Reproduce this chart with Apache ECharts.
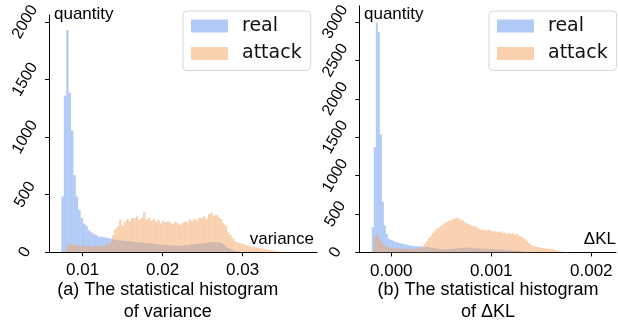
<!DOCTYPE html>
<html><head><meta charset="utf-8">
<script src="https://cdn.jsdelivr.net/npm/echarts@6/dist/echarts.min.js"></script>
<style>html,body{margin:0;padding:0;background:#fff}#c{width:618px;height:325px}</style>
</head><body><div id="c"></div>
<script>
const seriesNames = ['real', 'attack'];

// (a) variance histogram: bin start, bin width, counts per bin
const varBinStart = 0.00735;
const varBinWidth = 0.0003;
const varReal = [485,1360,1930,1385,1060,670,485,370,297,250,230,190,175,158,150,138,135,130,128,125,117,115,110,
  105,100,102,98,95,97,92,90,
  88,85,87,82,80,78,80,75,72,70,
  68,65,67,62,60,62,58,60,57,60,
  62,60,65,68,70,72,75,78,80,82,
  85,88,90,85,88,80,
  70,55,40,30,20,12,8,5,3];
const varAttack = [0,0,55,70,72,65,60,55,58,52,55,50,48,52,50,55,52,58,62,70,90,145,
  200,225,285,230,265,290,270,300,295,310,280,300,350,285,300,275,290,265,280,
  250,275,260,270,255,245,265,250,240,255,270,260,285,270,290,275,300,295,310,290,
  330,345,320,325,310,290,255,230,175,150,120,95,85,80,72,
  65,58,52,48,45,42,38,35,30,26,22,18,14,10,7,4,2];

// (b) ΔKL histogram
const klBinStart = -0.000195;
const klBinWidth = 0.00002;
const klReal = [330,1370,2990,2870,1540,660,350,245,180,165,155,140,135,128,120,116,112,100,95,90,85,
  82,80,78,80,75,72,70,68,65,60,
  55,50,48,45,42,45,40,42,45,48,50,52,55,58,60,62,65,62,60,58,
  55,52,55,50,48,52,50,45,48,45,42,45,40,38,40,35,32,30,28,25,
  22,20,18,15,12,10,8,6,4,2];
const klAttack = [0,200,240,185,150,115,90,75,68,62,58,55,52,50,48,52,45,48,44,46,42,45,48,50,55,
  75,110,150,185,210,250,280,310,325,345,365,380,395,410,420,432,440,452,445,430,420,395,380,372,355,
  345,335,330,310,295,300,285,290,295,285,275,280,270,265,275,255,260,245,250,240,250,230,245,220,215,
  195,180,150,125,100,90,80,72,70,62,60,55,50,52,45,48,30,25,20,15,10,8,5,3];

const varTicks = [0.01, 0.02, 0.03];
const klTicks = [0, 0.001, 0.002];
const varCountTicks = [0, 500, 1000, 1500, 2000];
const klCountTicks = [0, 500, 1000, 1500, 2000, 2500, 3000];
const yName = 'quantity';
const xNameA = 'variance';
const xNameB = 'ΔKL';
const captionA = ['(a) The statistical histogram', 'of variance'];
const captionB = ['(b) The statistical histogram', 'of ΔKL'];

function bins(start, width, counts) {
  return counts.map((c, i) => [start + i * width, start + (i + 1) * width, c]);
}
function renderBin(params, api) {
  const p0 = api.coord([api.value(0), api.value(2)]);
  const p1 = api.coord([api.value(1), 0]);
  return {
    type: 'rect',
    shape: { x: p0[0], y: p0[1], width: p1[0] - p0[0], height: p1[1] - p0[1] },
    style: { fill: api.visual('color') }
  };
}
const BLUE = 'rgba(100,149,237,0.5)';
const ORANGE = 'rgba(244,164,96,0.5)';
const FONT = '"Liberation Sans", Arial, sans-serif';

function xAxisCfg(idx, min, max, ticks, dec) {
  return {
    type: 'value', gridIndex: idx, min: min, max: max,
    axisLine: { show: true, onZero: false, lineStyle: { color: '#000', width: 1 } },
    axisTick: { show: true, length: 4, customValues: ticks, lineStyle: { color: '#000' } },
    axisLabel: { customValues: ticks, margin: 10, fontFamily: FONT, fontSize: 17, color: '#000',
      formatter: v => Number(v).toFixed(dec) },
    splitLine: { show: false }
  };
}
function yAxisCfg(idx, max, ticks) {
  return {
    type: 'value', gridIndex: idx, min: 0, max: max,
    axisLine: { show: true, onZero: false, lineStyle: { color: '#000', width: 1 } },
    axisTick: { show: true, length: 4, customValues: ticks, lineStyle: { color: '#000' } },
    axisLabel: { customValues: ticks, rotate: 60, align: 'center', verticalAlign: 'middle', margin: 24,
      fontFamily: FONT, fontSize: 16, color: '#000', formatter: v => String(Math.round(v)) },
    splitLine: { show: false }
  };
}
function legendCfg(left) {
  return {
    orient: 'vertical', left: left, top: 11, icon: 'rect', itemWidth: 37, itemHeight: 13, itemGap: 7.5,
    padding: [5, 9, 7, 8], borderColor: '#d6d6d6', borderWidth: 1, borderRadius: 4, backgroundColor: '#fff',
    selectedMode: false,
    textStyle: { fontFamily: '"DejaVu Sans"', fontSize: 19, color: '#111', padding: [0, 0, 0, 9], lineHeight: 20 },
    data: seriesNames
  };
}
function txt(x, y, text, align, vAlign, size) {
  return { type: 'text', x: x, y: y, z: 100,
    style: { text: text, fill: '#000', font: size + 'px ' + FONT, align: align, verticalAlign: vAlign } };
}

const chart = echarts.init(document.getElementById('c'), null, { renderer: 'canvas' });
chart.setOption({
  animation: false,
  backgroundColor: '#fff',
  grid: [
    { left: 49, top: 5, width: 268, height: 247.3 },
    { left: 359.3, top: 4, width: 256.7, height: 248.5 }
  ],
  xAxis: [
    xAxisCfg(0, 0.0058, 0.0393, varTicks, 2),
    xAxisCfg(1, -0.00032, 0.002247, klTicks, 3)
  ],
  yAxis: [
    yAxisCfg(0, 2061, varCountTicks),
    yAxisCfg(1, 3210, klCountTicks)
  ],
  legend: [legendCfg(183), legendCfg(489)],
  series: [
    { name: seriesNames[0], type: 'custom', xAxisIndex: 0, yAxisIndex: 0, renderItem: renderBin, clip: true,
      itemStyle: { color: BLUE }, encode: { x: [0, 1], y: 2 }, data: bins(varBinStart, varBinWidth, varReal) },
    { name: seriesNames[1], type: 'custom', xAxisIndex: 0, yAxisIndex: 0, renderItem: renderBin, clip: true,
      itemStyle: { color: ORANGE }, encode: { x: [0, 1], y: 2 }, data: bins(varBinStart, varBinWidth, varAttack) },
    { name: seriesNames[0], type: 'custom', xAxisIndex: 1, yAxisIndex: 1, renderItem: renderBin, clip: true,
      itemStyle: { color: BLUE }, encode: { x: [0, 1], y: 2 }, data: bins(klBinStart, klBinWidth, klReal) },
    { name: seriesNames[1], type: 'custom', xAxisIndex: 1, yAxisIndex: 1, renderItem: renderBin, clip: true,
      itemStyle: { color: ORANGE }, encode: { x: [0, 1], y: 2 }, data: bins(klBinStart, klBinWidth, klAttack) }
  ],
  graphic: [
    txt(54, 6, yName, 'left', 'top', 17),
    txt(364, 6, yName, 'left', 'top', 17),
    txt(314, 248, xNameA, 'right', 'bottom', 17),
    txt(616, 248, xNameB, 'right', 'bottom', 17),
    txt(167.7, 290, captionA[0], 'center', 'middle', 18),
    txt(167.7, 312, captionA[1], 'center', 'middle', 18),
    txt(488, 290, captionB[0], 'center', 'middle', 18),
    txt(488, 312, captionB[1], 'center', 'middle', 18)
  ]
});
</script></body></html>
